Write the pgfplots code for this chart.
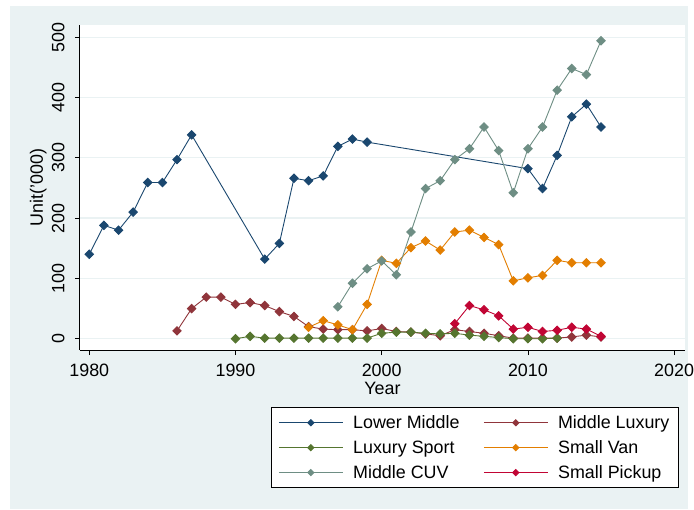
\documentclass[border=0pt]{standalone}
\usepackage{pgfplots}
\pgfplotsset{compat=1.18}
\usepackage{fontspec}
\setmainfont{Liberation Sans}

\definecolor{bgc}{RGB}{234,242,243}
\definecolor{snavy}{RGB}{26,71,111}
\definecolor{smaroon}{RGB}{144,53,59}
\definecolor{sgreen}{RGB}{85,117,47}
\definecolor{sorange}{RGB}{227,126,0}
\definecolor{steal}{RGB}{110,142,132}
\definecolor{scranb}{RGB}{193,5,52}

\pgfplotsset{
  ser/.style={color=#1, line width=0.9pt, mark=square*, mark size=3pt,
    mark options={rotate=45, solid, fill=#1, draw=#1}},
}

\begin{document}
\begin{tikzpicture}
\fill[white] (0,0) rectangle (694bp,511bp);
\fill[bgc] (10bp,1bp) rectangle (690bp,505bp);
\begin{axis}[
  at={(80bp,160bp)}, anchor=south west,
  width=607bp, height=326bp, scale only axis,
  xmin=1979.35, xmax=2020.75, ymin=-18.7, ymax=520.3,
  axis background/.style={fill=white},
  axis x line*=bottom, axis y line*=left,
  axis line style={line width=0.8pt, black},
  xtick={1980,1990,2000,2010,2020},
  ytick={0,100,200,300,400,500},
  tick align=outside, major tick length=5bp,
  tick style={line width=0.8pt, black},
  ymajorgrids, grid style={bgc, line width=1.3pt},
  font=\fontsize{18}{20}\selectfont,
  /pgf/number format/assume math mode=true,
  /pgf/number format/1000 sep={},
  yticklabel style={rotate=90, anchor=south, inner xsep=0pt, inner ysep=10bp},
  xticklabel style={inner xsep=0pt, inner ysep=9bp},
  xlabel={Year}, ylabel={Unit('000)},
  xlabel style={yshift=4bp, inner sep=0pt},
  ylabel style={yshift=-8bp},
  legend columns=2,
  legend cell align=left,
  legend style={at={(0.9896,-0.1758)}, anchor=north east,
    draw=black, line width=0.8pt, fill=white,
    font=\fontsize{18}{20}\selectfont,
    inner xsep=7bp, inner ysep=6bp, row sep=6.5bp,
    /tikz/every odd column/.append style={column sep=8bp},
    /tikz/every even column/.append style={column sep=22bp}},
  legend image code/.code={%
    \draw[mark repeat=2, mark phase=2, mark size=2.2pt]
      plot coordinates {(0bp,0bp) (32bp,0bp) (64bp,0bp)};},
]
\addplot[ser=snavy] coordinates {
  (1980,140) (1981,188) (1982,180) (1983,210) (1984,259) (1985,259)
  (1986,297) (1987,338) (1992,132) (1993,158) (1994,266) (1995,262)
  (1996,270) (1997,319) (1998,331) (1999,326) (2010,282) (2011,249)
  (2012,304) (2013,368) (2014,389) (2015,351)
};
\addlegendentry{Lower Middle}
\addplot[ser=smaroon] coordinates {
  (1986,13) (1987,50) (1988,69) (1989,69) (1990,57) (1991,60)
  (1992,55) (1993,45) (1994,37) (1995,20) (1996,16) (1997,15)
  (1998,15) (1999,13) (2000,17) (2001,12) (2002,11) (2003,8)
  (2004,5) (2005,15) (2006,12) (2007,9) (2008,5) (2009,1)
  (2010,1) (2011,1) (2012,1) (2013,3) (2014,6) (2015,3)
};
\addlegendentry{Middle Luxury}
\addplot[ser=sgreen] coordinates {
  (1990,0) (1991,4) (1992,1) (1993,1) (1994,1) (1995,1) (1996,1)
  (1997,1) (1998,1) (1999,1) (2000,9) (2001,11) (2002,11) (2003,9)
  (2004,8) (2005,9) (2006,6) (2007,4) (2008,2) (2009,0) (2010,0)
  (2011,0) (2012,1)
};
\addlegendentry{Luxury Sport}
\addplot[ser=sorange] coordinates {
  (1995,19) (1996,30) (1997,23) (1998,15) (1999,57) (2000,130)
  (2001,125) (2002,151) (2003,162) (2004,147) (2005,177) (2006,180)
  (2007,168) (2008,156) (2009,96) (2010,101) (2011,105) (2012,130)
  (2013,126) (2014,126) (2015,126)
};
\addlegendentry{Small Van}
\addplot[ser=steal] coordinates {
  (1997,53) (1998,92) (1999,116) (2000,129) (2001,106) (2002,177)
  (2003,249) (2004,262) (2005,297) (2006,315) (2007,351) (2008,312)
  (2009,242) (2010,315) (2011,351) (2012,412) (2013,448) (2014,438)
  (2015,494)
};
\addlegendentry{Middle CUV}
\addplot[ser=scranb] coordinates {
  (2005,25) (2006,55) (2007,48) (2008,38) (2009,16) (2010,19)
  (2011,12) (2012,14) (2013,19) (2014,16) (2015,4)
};
\addlegendentry{Small Pickup}
\end{axis}
\end{tikzpicture}
\end{document}
